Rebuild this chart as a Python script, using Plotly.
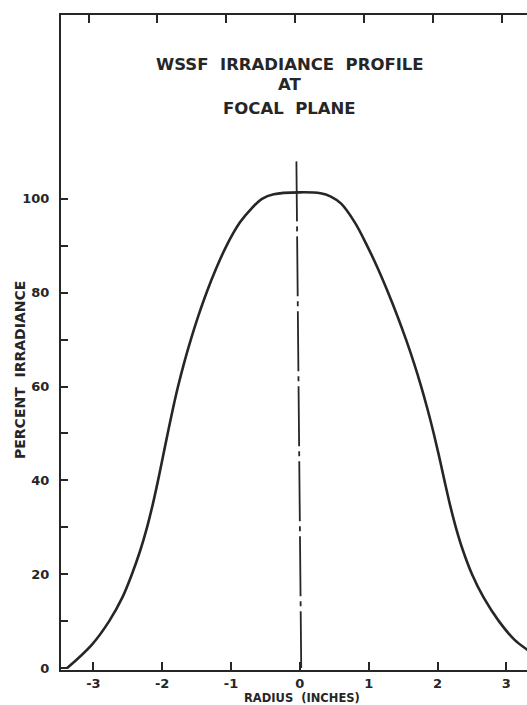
import plotly.graph_objects as go

# Irradiance profile
radius = [-3.38, -3.02, -2.77, -2.58, -2.44, -2.32, -2.22, -2.135, -2.06,
          -1.99, -1.92, -1.848, -1.77, -1.682, -1.584, -1.476, -1.356, -1.221, -1.066,
          -0.87, -0.70, -0.55, -0.38, 0.00, 0.30, 0.45, 0.60, 0.798, 0.978,
          1.138, 1.283, 1.418, 1.543, 1.658, 1.763, 1.858, 1.945, 2.025, 2.10,
          2.178, 2.266, 2.371, 2.501, 2.671, 2.891, 3.12, 3.33, 3.45]
irradiance = [0.0, 5.0, 10.0, 15.0, 20.0, 25.0, 30.0, 35.0, 40.0,
              45.0, 50.0, 55.0, 60.0, 65.0, 70.0, 75.0, 80.0, 85.0, 90.0,
              95.0, 98.0, 100.0, 101.0, 101.4, 101.2, 100.5, 99.0, 95.0, 90.0,
              85.0, 80.0, 75.0, 70.0, 65.0, 60.0, 55.0, 50.0, 45.0, 40.0,
              35.0, 30.0, 25.0, 20.0, 15.0, 10.0, 6.0, 3.6, 2.2]

center_x = [-0.05, 0.02]
center_y = [108, 0]

x_tickvals = [-3, -2, -1, 0, 1, 2, 3]
x_ticktext = ["-3", "-2", "-1", "0", "1", "2", "3"]
y_tickvals = [0, 10, 20, 30, 40, 50, 60, 70, 80, 90, 100]
y_ticktext = ["0", "", "20", "", "40", "", "60", "", "80", "", "100"]

title_lines = ["WSSF  IRRADIANCE  PROFILE", "AT", "FOCAL  PLANE"]
x_title = "RADIUS  (INCHES)"
y_title = "PERCENT  IRRADIANCE"

INK = "#262626"
FONT = dict(family="DejaVu Sans", size=13, color=INK, weight="bold")

fig = go.Figure()
fig.add_trace(go.Scatter(x=radius, y=irradiance, mode="lines",
                         line=dict(color=INK, width=2.6, shape="spline", smoothing=1.0),
                         hoverinfo="skip", showlegend=False))
fig.add_trace(go.Scatter(x=center_x, y=center_y, mode="lines",
                         line=dict(color=INK, width=1.8, dash="60px,5px,5px,5px"),
                         hoverinfo="skip", showlegend=False))
# invisible trace to bring in the top (mirrored, slightly skewed) axis
fig.add_trace(go.Scatter(x=[0], y=[0], xaxis="x2", mode="markers",
                         marker=dict(opacity=0), hoverinfo="skip", showlegend=False))

XR = [-3.47, 3.30]
fig.update_layout(
    width=527, height=705,
    margin=dict(l=61, r=0, t=15, b=35),
    paper_bgcolor="white", plot_bgcolor="white",
    font=FONT,
    showlegend=False,
    xaxis=dict(range=XR, showgrid=False, zeroline=False,
               showline=True, linecolor=INK, linewidth=2,
               ticks="inside", ticklen=8, tickwidth=2, tickcolor=INK,
               tickvals=x_tickvals, ticktext=x_ticktext,
               tickfont=FONT, ticklabelstandoff=0),
    xaxis2=dict(range=[XR[0] + 0.07, XR[1] + 0.07], overlaying="x", side="top", anchor="y",
                showgrid=False, zeroline=False,
                showline=True, linecolor=INK, linewidth=2,
                ticks="inside", ticklen=8, tickwidth=2, tickcolor=INK,
                tickvals=x_tickvals, showticklabels=False),
    yaxis=dict(range=[-0.42, 139.2], showgrid=False, zeroline=False,
               showline=True, linecolor=INK, linewidth=2,
               ticks="inside", ticklen=7, tickwidth=2, tickcolor=INK,
               tickvals=y_tickvals, ticktext=y_ticktext,
               tickfont=FONT, ticklabelstandoff=7),
)

title_y = [0.925, 0.894, 0.857]
for line, ty in zip(title_lines, title_y):
    fig.add_annotation(text=line, xref="x", yref="paper", x=-0.15, y=ty,
                       showarrow=False, xanchor="center", yanchor="middle",
                       font=dict(family="DejaVu Sans", size=16.5, color=INK, weight="bold"))

fig.add_annotation(text=x_title, xref="x", yref="paper", x=0.03, y=-0.0435,
                   showarrow=False, xanchor="center", yanchor="middle",
                   font=dict(family="DejaVu Sans", size=11.5, color=INK, weight="bold"))
fig.add_annotation(text=y_title, xref="paper", yref="paper", x=-0.088, y=0.458,
                   textangle=-90, showarrow=False, xanchor="center", yanchor="middle",
                   font=dict(family="DejaVu Sans", size=14, color=INK, weight="bold"))

fig.write_html("out.html")
